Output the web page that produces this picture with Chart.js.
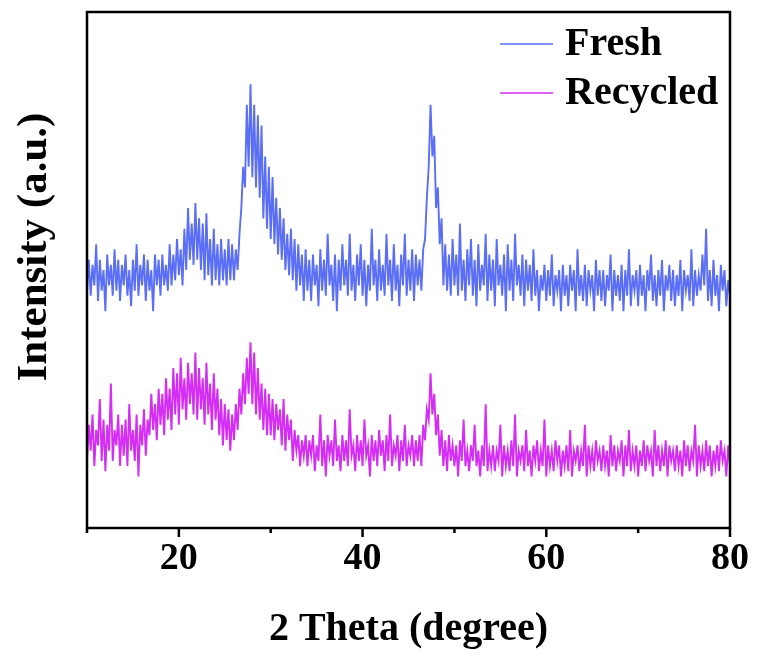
<!DOCTYPE html>
<html>
<head>
<meta charset="utf-8">
<script src="https://cdn.jsdelivr.net/npm/chart.js@4.4.0/dist/chart.umd.min.js"></script>
<style>
  html, body { margin: 0; padding: 0; background: #fff; }
  #wrap { width: 757px; height: 657px; }
</style>
</head>
<body>
<div id="wrap"><canvas id="xrd" width="757" height="657"></canvas></div>
<script>
// 2 Theta sampling grid (degree)
const thetaStart = 10;
const thetaStep = 0.2;
const xMajorTicks = [20, 40, 60, 80];
const xMinorTicks = [10, 30, 50, 70];

const seriesNames = ['Fresh', 'Recycled'];
const seriesColors = ['#5a6ef6', '#d42df5'];
const yTitle = 'Intensity (a.u.)';

// intensity, arbitrary units, one value per 0.2 degree from 10 to 80
const fresh = [
  46, 52, 45, 51, 47, 55, 44, 52, 46, 50, 42, 53, 47, 51, 45, 54, 46, 52, 44, 51,
  47, 53, 45, 50, 43, 52, 46, 55, 45, 51, 47, 53, 44, 52, 46, 50, 42, 53, 47, 52,
  45, 53, 47, 51, 46, 55, 47, 53, 48, 56, 49, 54, 47, 58, 50, 62, 52, 59, 51, 63,
  52, 60, 50, 59, 48, 61, 49, 56, 47, 58, 48, 55, 47, 56, 48, 54, 47, 56, 48, 55,
  48, 54, 50, 57, 62, 70, 66, 82, 70, 86, 68, 82, 66, 80, 64, 78, 60, 72, 58, 70,
  56, 68, 55, 64, 53, 62, 52, 60, 50, 57, 49, 58, 48, 56, 46, 55, 47, 53, 44, 54,
  46, 52, 44, 53, 47, 51, 43, 54, 46, 52, 45, 57, 47, 51, 44, 53, 42, 52, 46, 55,
  47, 52, 45, 57, 46, 51, 44, 53, 47, 55, 45, 52, 43, 51, 46, 58, 47, 52, 44, 54,
  46, 51, 45, 57, 47, 52, 44, 55, 46, 51, 43, 53, 47, 57, 45, 52, 46, 54, 44, 53,
  47, 52, 46, 54, 56, 64, 70, 82, 72, 76, 62, 66, 55, 60, 47, 55, 46, 53, 45, 56,
  47, 53, 45, 59, 46, 52, 44, 54, 47, 56, 45, 52, 43, 55, 46, 51, 47, 57, 44, 53,
  46, 52, 43, 56, 47, 51, 45, 53, 42, 55, 46, 52, 44, 57, 47, 51, 45, 53, 43, 52,
  46, 51, 44, 54, 45, 50, 42, 49, 46, 51, 44, 50, 45, 53, 43, 49, 46, 50, 42, 51,
  45, 49, 43, 51, 46, 50, 42, 54, 45, 49, 44, 51, 43, 50, 46, 49, 42, 52, 45, 50,
  44, 50, 43, 49, 46, 53, 42, 50, 45, 49, 44, 51, 42, 50, 45, 54, 43, 49, 46, 50,
  43, 51, 45, 49, 42, 50, 46, 53, 44, 49, 43, 50, 45, 52, 42, 49, 46, 51, 44, 50,
  43, 49, 45, 52, 42, 50, 46, 49, 44, 54, 43, 50, 45, 49, 46, 53, 47, 58, 44, 50,
  43, 52, 45, 49, 42, 51, 46, 50, 43, 48, 45
];

const recycled = [
  13, 20, 15, 22, 12, 19, 16, 25, 13, 21, 11, 20, 15, 28, 13, 19, 16, 22, 12, 20,
  14, 21, 12, 24, 15, 19, 13, 22, 10, 20, 16, 23, 14, 21, 18, 26, 19, 24, 17, 27,
  20, 26, 18, 29, 21, 27, 19, 31, 22, 30, 20, 33, 23, 29, 21, 32, 24, 30, 22, 34,
  21, 31, 23, 29, 20, 32, 22, 28, 19, 30, 21, 27, 18, 25, 16, 24, 17, 23, 15, 22,
  17, 24, 19, 27, 22, 30, 24, 33, 26, 36, 24, 34, 22, 31, 21, 28, 19, 27, 18, 26,
  18, 25, 17, 24, 19, 23, 16, 25, 15, 22, 17, 21, 13, 19, 15, 18, 12, 17, 14, 18,
  12, 17, 14, 18, 11, 16, 13, 22, 12, 17, 10, 18, 14, 17, 12, 21, 13, 16, 11, 18,
  13, 17, 12, 23, 14, 16, 11, 18, 13, 17, 12, 21, 14, 16, 10, 18, 13, 17, 12, 19,
  14, 17, 11, 18, 13, 22, 12, 16, 14, 18, 11, 17, 13, 20, 12, 16, 14, 18, 12, 17,
  13, 18, 12, 20, 17, 23, 21, 30, 22, 26, 18, 22, 14, 19, 12, 17, 11, 18, 13, 16,
  12, 16, 10, 17, 13, 21, 12, 15, 11, 16, 13, 20, 12, 15, 10, 16, 12, 24, 11, 15,
  12, 16, 11, 15, 13, 20, 10, 16, 12, 15, 11, 17, 12, 22, 10, 15, 13, 16, 11, 19,
  12, 15, 10, 16, 13, 17, 11, 15, 12, 21, 10, 16, 12, 15, 11, 17, 13, 16, 10, 15,
  12, 16, 11, 19, 10, 15, 13, 16, 11, 15, 12, 20, 10, 16, 12, 15, 11, 17, 13, 15,
  11, 16, 12, 15, 10, 18, 12, 16, 11, 15, 13, 17, 10, 16, 12, 19, 11, 15, 12, 16,
  10, 15, 12, 17, 11, 16, 13, 15, 10, 19, 12, 16, 11, 15, 12, 17, 10, 16, 13, 15,
  11, 16, 12, 15, 10, 17, 12, 16, 11, 15, 13, 20, 10, 16, 12, 15, 11, 17, 12, 16,
  10, 15, 12, 16, 11, 17, 13, 15, 10, 16, 12
];

const FONT = '"Liberation Serif", "Times New Roman", serif';

function toPoints(values) {
  return values.map(function(v, i) { return { x: thetaStart + i * thetaStep, y: v }; });
}

// box frame, outward tick marks, y title and the legend inside the plot
const framePlugin = {
  id: 'frame',
  afterDraw(chart) {
    const ctx = chart.ctx;
    const a = chart.chartArea;
    const xs = chart.scales.x;
    ctx.save();
    ctx.strokeStyle = '#000';
    ctx.lineWidth = 2.5;
    ctx.strokeRect(a.left, a.top, a.right - a.left, a.bottom - a.top);
    xMajorTicks.concat(xMinorTicks).forEach(function(v) {
      const px = xs.getPixelForValue(v);
      const len = xMajorTicks.includes(v) ? 9 : 5;
      ctx.beginPath();
      ctx.moveTo(px, a.bottom);
      ctx.lineTo(px, a.bottom + len);
      ctx.stroke();
    });

    // y axis title, a bit above the middle as in the original figure
    ctx.save();
    ctx.translate(35, 247);
    ctx.rotate(-Math.PI / 2);
    ctx.font = 'bold 43px ' + FONT;
    ctx.fillStyle = '#000';
    ctx.textAlign = 'center';
    ctx.textBaseline = 'middle';
    ctx.fillText(yTitle, 0, 0);
    ctx.restore();

    ctx.font = 'bold 40px ' + FONT;
    ctx.textBaseline = 'middle';
    ctx.textAlign = 'left';
    chart.data.datasets.forEach(function(ds, i) {
      const y = a.top + 32 + i * 49;
      ctx.strokeStyle = ds.borderColor;
      ctx.lineWidth = 1.5;
      ctx.beginPath();
      ctx.moveTo(a.right - 230, y);
      ctx.lineTo(a.right - 177, y);
      ctx.stroke();
      ctx.fillStyle = '#000';
      ctx.fillText(ds.label, a.right - 165, y + 1);
    });
    ctx.restore();
  }
};

new Chart(document.getElementById('xrd'), {
  type: 'line',
  data: {
    datasets: [
      { label: seriesNames[0], data: toPoints(fresh), borderColor: seriesColors[0], borderWidth: 1.9, pointRadius: 0, tension: 0 },
      { label: seriesNames[1], data: toPoints(recycled), borderColor: seriesColors[1], borderWidth: 1.9, pointRadius: 0, tension: 0 }
    ]
  },
  options: {
    responsive: false,
    animation: false,
    events: [],
    layout: { padding: { top: 12, right: 27, left: 0, bottom: 0 } },
    plugins: { legend: { display: false }, tooltip: { enabled: false } },
    scales: {
      x: {
        type: 'linear',
        min: 10,
        max: 80,
        afterFit: function(s) { s.height = 129; },
        afterBuildTicks: function(s) { s.ticks = xMajorTicks.map(function(v) { return { value: v }; }); },
        grid: { display: false, drawTicks: false },
        border: { display: false },
        ticks: { padding: 8, color: '#000', maxRotation: 0, autoSkip: false, font: { family: FONT, size: 38, weight: 'bold' } },
        title: { display: true, text: '2 Theta (degree)', color: '#000', padding: { top: 0, bottom: 3 }, font: { family: FONT, size: 40, weight: 'bold' } }
      },
      y: {
        min: 0,
        max: 100,
        afterFit: function(s) { s.width = 87; },
        grid: { display: false, drawTicks: false },
        border: { display: false },
        ticks: { display: false },
        title: { display: false }
      }
    }
  },
  plugins: [framePlugin]
});
</script>
</body>
</html>
